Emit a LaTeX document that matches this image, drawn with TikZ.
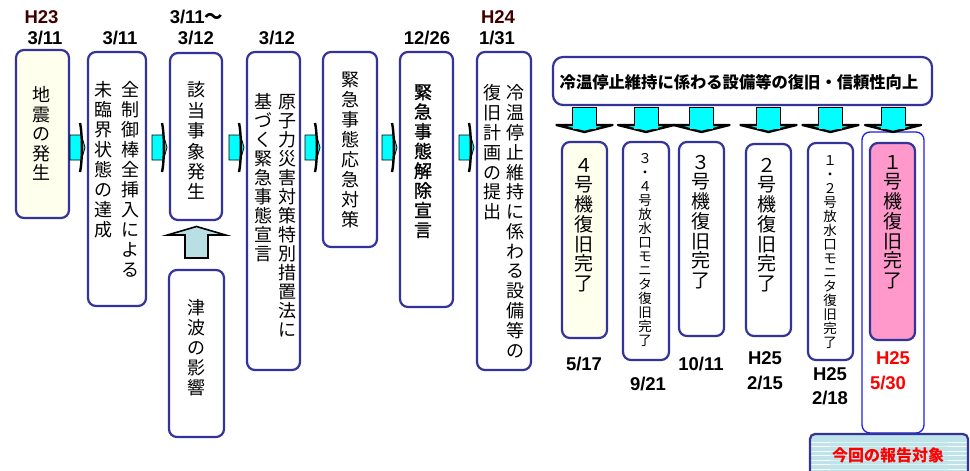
\documentclass[tikz,border=0pt]{standalone}
\usepackage{fontspec}
\setmainfont{Liberation Sans}
\newfontfamily\cjk{Noto Sans CJK JP}
\newfontfamily\cjkemb[FakeBold=1.2]{Noto Sans CJK JP}
\usetikzlibrary{calc}
\definecolor{boxblue}{HTML}{333399}
\definecolor{arrowcyan}{HTML}{00FFFF}
\definecolor{uparrowfill}{HTML}{B8E0E4}
\definecolor{cream}{HTML}{FFFFEE}
\definecolor{pinkfill}{HTML}{FF99CC}
\definecolor{frameblue}{HTML}{2020E8}
\definecolor{darkmaroon}{HTML}{400000}
\definecolor{labelfill}{HTML}{BEE3E8}
\makeatletter
\newcommand\vcol[3]{\vtop{\fontsize{#1}{#2}\selectfont\baselineskip=#2\relax\lineskiplimit=-100pt\lineskip=0pt\@tfor\vc:=#3\do{\hbox to #1{\hss\vc\hss}}}}
\makeatother
\newcommand\vtwo[5]{\hbox{\vcol{#1}{#2}{#4}\hskip#3\relax\vcol{#1}{#2}{#5}}}
\newcommand\harrow[1]{%
  \begin{scope}[shift={(#1.west |- harrowline)}]
    \filldraw[fill=arrowcyan, draw=black, line width=0.8pt] (-18,-12.5) -- (-6.5,-12.5) -- (-3,0) -- (-6.5,12.5) -- (-18,12.5) -- cycle;
    \draw[line width=2.4pt] (-8,-24.5) .. controls (-5.5,-14) and (-5.5,14) .. (-8,24.5);
  \end{scope}}
\newcommand\darrow[1]{%
  \begin{scope}[shift={(#1.north |- darrowline)}]
    \filldraw[fill=arrowcyan, draw=black, line width=2.4pt, line join=round] (-28,20) -- (28,20) -- (0,27) -- cycle;
    \fill[arrowcyan] (-11.6,2) rectangle (11.6,23.5);
    \draw[line width=0.9pt] (-12,20.5) -- (-12,2) -- (12,2) -- (12,20.5);
  \end{scope}}
\tikzset{
  mybox/.style={draw=boxblue, line width=2.2pt, rounded corners=8pt, fill=white, inner sep=0pt, outer sep=0pt},
  vtxt/.style={inner sep=0pt, anchor=base, font=\cjk},
  datelbl/.style={font=\bfseries\fontsize{18.5}{18.5}\selectfont, inner sep=0pt, text height=13pt, text depth=0pt},
}
\begin{document}
\begin{tikzpicture}[x=1pt,y=-1pt]
\useasboundingbox (0,0) rectangle (970,471);
\fill[white] (0,0) rectangle (970,471);
\coordinate (harrowline) at (0,147.5);
\coordinate (darrowline) at (0,105);

% left timeline boxes
\node[mybox, fill=cream, minimum width=53pt, minimum height=168pt] (b1) at (42.5,134) {};
\node[mybox, minimum width=58pt, minimum height=254pt] (b2) at (117,179) {};
\node[mybox, minimum width=52pt, minimum height=167pt] (b3) at (196,136.5) {};
\node[mybox, minimum width=55pt, minimum height=167pt] (tsu) at (196.5,353.5) {};
\node[mybox, minimum width=53pt, minimum height=318pt] (b4) at (273.5,211) {};
\node[mybox, minimum width=54pt, minimum height=195pt] (b5) at (350,149.5) {};
\node[mybox, minimum width=53pt, minimum height=255pt] (b6) at (426.5,179.5) {};
\node[mybox, minimum width=54pt, minimum height=318pt] (b7) at (504,211) {};

% vertical texts
\node[vtxt] (t1) at (41.5,101.8) {\vcol{18pt}{19.5pt}{地震の発生}};
\node[vtxt] (t2) at (116.5,96.8) {\vtwo{18pt}{20pt}{9pt}{未臨界状態の達成}{全制御棒全挿入による}};
\node[vtxt] (t3) at (196,96.8) {\vcol{18pt}{20.4pt}{該当事象発生}};
\node[vtxt] (ttsu) at (196,314.8) {\vcol{18pt}{20pt}{津波の影響}};
\node[vtxt] (t4) at (275,108.8) {\vtwo{18pt}{19pt}{6pt}{基づく緊急事態宣言}{原子力災害対策特別措置法に}};
\node[vtxt] (t5) at (350,86.8) {\vcol{18pt}{20pt}{緊急事態応急対策}};
\node[vtxt, font=\cjkemb] (t6) at (423,98.8) {\vcol{18pt}{19.7pt}{緊急事態解除宣言}};
\node[vtxt] (t7) at (503.5,99.8) {\vtwo{18pt}{19.8pt}{5pt}{復旧計画の提出}{冷温停止維持に係わる設備等の}};

% horizontal arrows
\harrow{b2}
\harrow{b3}
\harrow{b4}
\harrow{b5}
\harrow{b6}
\harrow{b7}

% tsunami up arrow
\begin{scope}[shift={(tsu.north)}]
  \filldraw[fill=uparrowfill, draw=black, line width=1.6pt] (-11.5,-12) -- (-11.5,-35) -- (-29,-35) -- (0,-43.5) -- (29,-35) -- (11.5,-35) -- (11.5,-12) -- cycle;
\end{scope}

% top dates
\node[datelbl, text=darkmaroon] (dH23) at (41.5,17) {H23};
\node[datelbl] (d1) at (45,38) {3/11};
\node[datelbl] (d2) at (120,38) {3/11};
\node[datelbl] (d3a) at (196.5,17) {3/11{\cjk ～}};
\node[datelbl] (d3b) at (196,38) {3/12};
\node[datelbl] (d4) at (277,38) {3/12};
\node[datelbl] (d6) at (427,38) {12/26};
\node[datelbl, text=darkmaroon] (dH24) at (498,17) {H24};
\node[datelbl] (d7) at (497,38) {1/31};

% right part
\node[mybox, rounded corners=10pt, minimum width=379pt, minimum height=48pt] (top) at (742.5,81) {};
\node[font=\cjk\bfseries\fontsize{16.3}{16.3}\selectfont, inner sep=0pt] (toptext) at (739,82) {冷温停止維持に係わる設備等の復旧・信頼性向上};

\node[draw=frameblue, line width=1.3pt, rounded corners=8pt, inner sep=0pt, minimum width=62pt, minimum height=301pt] (frame) at (893,282.5) {};

\node[mybox, fill=cream, minimum width=45pt, minimum height=196pt] (r1) at (584.5,240) {};
\node[mybox, minimum width=46pt, minimum height=218pt] (r2) at (646,251) {};
\node[mybox, minimum width=45pt, minimum height=194pt] (r3) at (701.5,239) {};
\node[mybox, minimum width=45pt, minimum height=192pt] (r4) at (768.5,240) {};
\node[mybox, minimum width=45pt, minimum height=217pt] (r5) at (830.5,251.5) {};
\node[mybox, fill=pinkfill, minimum width=45pt, minimum height=197pt] (r6) at (892.5,241.5) {};

\node[vtxt] (rt1) at (584,172.2) {\vcol{19pt}{19.7pt}{４号機復旧完了}};
\node[vtxt] (rt2) at (645,163.1) {\vcol{13.5pt}{14pt}{３・４号放水口モニタ復旧完了}};
\node[vtxt] (rt3) at (701,169.2) {\vcol{19pt}{19.7pt}{３号機復旧完了}};
\node[vtxt] (rt4) at (767,172.2) {\vcol{19pt}{19.7pt}{２号機復旧完了}};
\node[vtxt] (rt5) at (830,165.1) {\vcol{13.5pt}{14pt}{１・２号放水口モニタ復旧完了}};
\node[vtxt] (rt6) at (893,169.2) {\vcol{19pt}{19.7pt}{１号機復旧完了}};

\darrow{r1}
\darrow{r2}
\darrow{r3}
\darrow{r4}
\darrow{r5}
\darrow{frame}

% right dates
\node[datelbl] (e1) at (584,364) {5/17};
\node[datelbl] (e2) at (648,384) {9/21};
\node[datelbl] (e3) at (701,364) {10/11};
\node[datelbl] (e4a) at (765,358) {H25};
\node[datelbl] (e4b) at (765,383) {2/15};
\node[datelbl] (e5a) at (830,374) {H25};
\node[datelbl] (e5b) at (830,398) {2/18};
\node[datelbl, text=red] (e6a) at (893,358) {H25};
\node[datelbl, text=red] (e6b) at (888,383) {5/30};

% report target label
\fill[labelfill, rounded corners=5pt] (810,434) rectangle (968,480);
\begin{scope}
  \clip (810,434) rectangle (968,480);
  \foreach \yy in {442,446.5,...,472} {
    \draw[white, opacity=0.5, line width=0.9pt] (810,\yy) -- (968,\yy);
    \draw[white, line width=0.9pt] (810,\yy) -- (830,\yy);
    \draw[white, line width=0.9pt] (948,\yy) -- (968,\yy);
  }
\end{scope}
\draw[boxblue, line width=2.2pt, rounded corners=5pt] (810,480) -- (810,434) -- (968,434) -- (968,480);
\node[font=\cjk\bfseries\fontsize{16}{16}\selectfont, text=red, inner sep=0pt] (target) at (888,455) {今回の報告対象};
\end{tikzpicture}
\end{document}
